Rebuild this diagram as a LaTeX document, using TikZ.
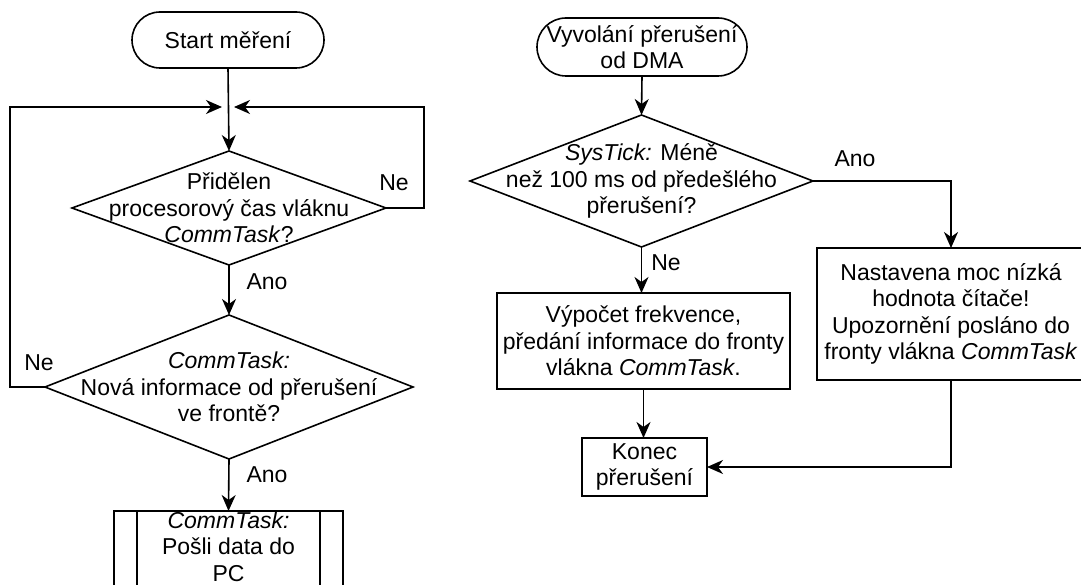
\documentclass[tikz,border=0pt]{standalone}
\usepackage{fontspec}
\setmainfont{Liberation Sans}
\usetikzlibrary{shapes.geometric,arrows.meta,calc}

\begin{document}
\begin{tikzpicture}[x=1pt,y=-1pt,
  every node/.style={font=\fontsize{23}{26.5}\selectfont, align=center, inner sep=0pt, outer sep=0pt},
  line/.style={line width=1.6pt},
  flow/.style={line, -{Stealth[length=16pt,width=14pt,inset=5pt]}},
  term/.style={draw, line width=1.6pt, rectangle, rounded corners=28pt, minimum height=56pt},
  decision/.style={draw, line width=1.6pt, diamond},
  procbox/.style={draw, line width=1.6pt, rectangle},
  lbl/.style={}]

\path[use as bounding box] (0,0) rectangle (1081,585);
\clip (0,0) rectangle (1081,585);

% ---------- measurement thread (left) ----------
\node[term, minimum width=192pt] (start) at (228,40) {Start měření};

\node[decision, minimum width=314pt, minimum height=114pt] (d1) at (229,208) {};
\node[lbl] (d1t) at (d1) {Přidělen\\procesorový čas vláknu\\\textit{CommTask}?};

\node[decision, minimum width=368pt, minimum height=144pt] (d2) at (229,387) {};
\node[lbl] (d2t) at (d2) {\textit{CommTask:}\\Nová informace od přerušení\\ve frontě?};

% predefined process: outer box with two inner side bars
\node[procbox, minimum width=229pt, minimum height=77pt] (sp) at (228.5,549.5) {};
\node[lbl] (spt) at (228.5,546.5) {\textit{CommTask:}\\Pošli data do\\PC};
\draw[line] ($(sp.north west)+(23,0)$) -- ($(sp.south west)+(23,0)$);
\draw[line] ($(sp.north east)+(-23,0)$) -- ($(sp.south east)+(-23,0)$);

\coordinate (mL) at (222,107);
\coordinate (mR) at (234,107);
\coordinate (cl) at (10,107);
\coordinate (cr) at (424,107);

\draw[flow] (start.south) -- (d1.north);
\draw[flow] (d1.east) -| (cr) -- (mR);
\draw[flow] (d2.west) -| (cl) -- (mL);
\draw[flow] (d1.south) -- (d2.north);
\draw[flow] (d2.south) -- (sp.north);

\node[lbl] (ne1) at (394,183) {Ne};
\node[lbl] (ano1) at (267,282) {Ano};
\node[lbl] (ne2) at (39,363) {Ne};
\node[lbl] (ano2) at (267,475) {Ano};

% ---------- DMA interrupt handler (right) ----------
\node[term, rounded corners=29pt, minimum width=210pt, minimum height=58pt] (irq) at (642,47)
  {Vyvolání přerušení\\od DMA};

\node[decision, minimum width=343pt, minimum height=132pt] (d3) at (641.5,181) {};
\node[lbl] (d3t) at (d3) {\textit{SysTick:} Méně\\než 100 ms od předešlého\\přerušení?};

\node[procbox, minimum width=293pt, minimum height=96pt] (calc) at (643.5,341)
  {Výpočet frekvence,\\předání informace do fronty\\vlákna \textit{CommTask}.};

\node[procbox, minimum width=125pt, minimum height=58pt] (end) at (644.5,467)
  {Konec\\přerušení};

\node[procbox, minimum width=268pt, minimum height=132pt] (rb) at (951,314)
  {Nastavena moc nízká\\hodnota čítače!\\Upozornění posláno do\\fronty vlákna \textit{CommTask}};

\draw[flow] (irq.south) -- (d3.north);
\draw[flow] (d3.east) -| (rb.north);
\draw[flow] (d3.south) -- (d3.south |- calc.north);
\draw[flow] (calc.south) -- (calc.south |- end.north);
\draw[flow] (rb.south) |- (end.east);

\node[lbl] (ano3) at (855,159) {Ano};
\node[lbl] (ne3) at (666,263) {Ne};
\end{tikzpicture}
\end{document}
